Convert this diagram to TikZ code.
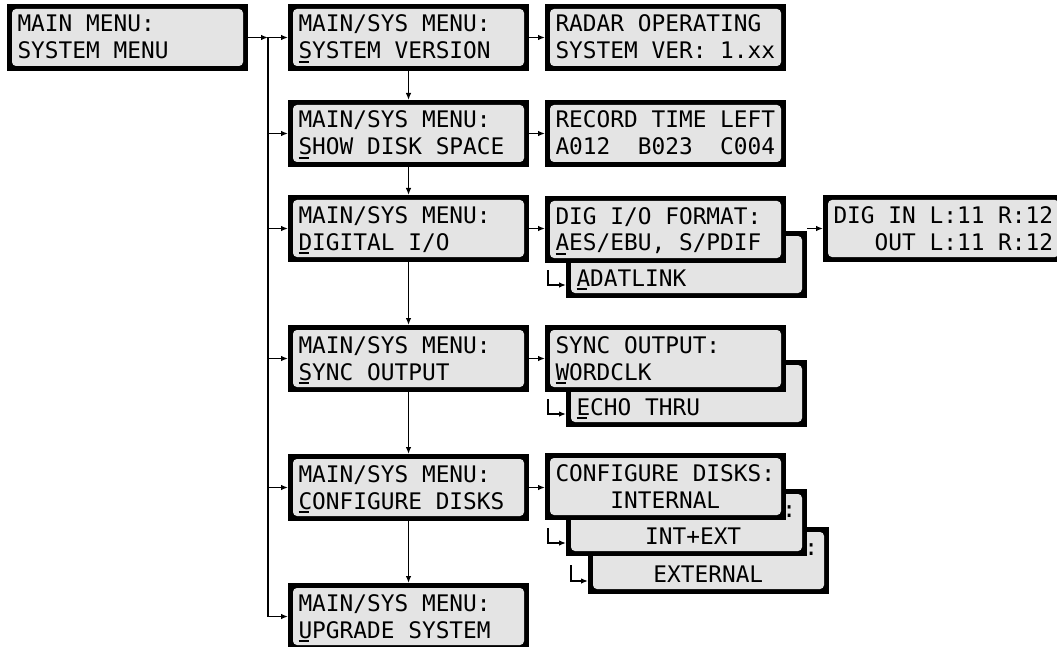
\documentclass[tikz,border=0pt]{standalone}
\usepackage{fontspec}
\usepackage{tikz}
\usetikzlibrary{arrows.meta}
\newfontfamily\lcdfont{DejaVu Sans Mono}
\definecolor{lcdGray}{RGB}{228,228,228}
\newcommand{\cursor}[1]{\rlap{\rule[-0.19em]{0.48em}{0.09em}}#1}
\newcommand{\lcdtext}[2]{\vtop{\hbox to 220pt{#1\hss}\hbox to 220pt{#2\hss}}}

\tikzset{
  lcd/.style={anchor=north west, fill=black, inner xsep=10.5pt, inner ysep=0pt, outer sep=0pt,
    text height=28pt, text depth=39pt,
    font=\lcdfont\fontsize{22.8pt}{27pt}\selectfont,
    path picture={\fill[lcdGray, rounded corners=4pt]
      ([xshift=5pt,yshift=-5pt]path picture bounding box.north west) rectangle
      ([xshift=-5pt,yshift=5pt]path picture bounding box.south east);}},
  link/.style={line width=1.3pt, -{Latex[length=7pt,width=5.5pt]}},
  wire/.style={line width=1.3pt}
}

\begin{document}
\begin{tikzpicture}[x=1pt, y=-1pt]
\useasboundingbox (0,0) rectangle (1057,647);

% main menu
\node[lcd] (main) at (7,4) {\lcdtext{MAIN MENU:}{SYSTEM MENU}};

% system menu entries
\node[lcd] (ver)  at (288,4)   {\lcdtext{MAIN/SYS MENU:}{\cursor{S}YSTEM VERSION}};
\node[lcd] (disk) at (288,100) {\lcdtext{MAIN/SYS MENU:}{\cursor{S}HOW DISK SPACE}};
\node[lcd] (dig)  at (288,195) {\lcdtext{MAIN/SYS MENU:}{\cursor{D}IGITAL I/O}};
\node[lcd] (sync) at (288,325) {\lcdtext{MAIN/SYS MENU:}{\cursor{S}YNC OUTPUT}};
\node[lcd] (cfg)  at (288,454) {\lcdtext{MAIN/SYS MENU:}{\cursor{C}ONFIGURE DISKS}};
\node[lcd] (upg)  at (288,583) {\lcdtext{MAIN/SYS MENU:}{\cursor{U}PGRADE SYSTEM}};

% displays, the ones behind first
\node[lcd] (radar) at (545,4)   {\lcdtext{RADAR OPERATING}{SYSTEM VER: 1.xx}};
\node[lcd] (rec)   at (545,100) {\lcdtext{RECORD TIME LEFT}{A012~~B023~~C004}};
\node[lcd] (adat)  at (566,231) {\lcdtext{}{\cursor{A}DATLINK}};
\node[lcd] (fmt)   at (545,196) {\lcdtext{DIG I/O FORMAT:}{\cursor{A}ES/EBU, S/PDIF}};
\node[lcd] (digin) at (823,195) {\lcdtext{DIG IN L:11 R:12}{~~~OUT L:11 R:12}};
\node[lcd] (echo)  at (566,360) {\lcdtext{}{\cursor{E}CHO THRU}};
\node[lcd] (syncout) at (545,325) {\lcdtext{SYNC OUTPUT:}{\cursor{W}ORDCLK}};
\node[lcd] (cfgext) at (588,527) {\lcdtext{\phantom{CONFIGURE DISKS}:}{~~~~EXTERNAL}};
\node[lcd] (cfgboth) at (566,489) {\lcdtext{\phantom{CONFIGURE DISKS}:}{~~~~~INT+EXT}};
\node[lcd] (cfgint) at (545,453) {\lcdtext{CONFIGURE DISKS:}{~~~~INTERNAL}};

% bus to the system menu
\coordinate (bus) at (268,37.5);
\draw[link] (main.east) -- (bus);
\draw[wire] (bus) -- (bus |- upg.west);
\foreach \m in {ver,disk,dig,sync,cfg,upg}
  \draw[link] (bus |- \m.west) -- (\m.west);
\foreach \a/\b in {ver/disk,disk/dig,dig/sync,sync/cfg,cfg/upg}
  \draw[link] (\a.south) -- (\b.north);
\foreach \a/\b in {ver/radar,disk/rec,dig/fmt,sync/syncout,cfg/cfgint}
  \draw[link] (\a.east) -- (\a.east -| \b.west);
\draw[link] (adat.east |- digin.west) -- (digin.west);

% hooks to the other choices
\coordinate (hookAdat) at (548,270);
\coordinate (hookEcho) at (548,399);
\coordinate (hookBoth) at (548,528);
\coordinate (hookExt)  at (571,565);
\draw[link] (hookAdat) |- ([yshift=13pt]adat.south west);
\draw[link] (hookEcho) |- ([yshift=13pt]echo.south west);
\draw[link] (hookBoth) |- ([yshift=13pt]cfgboth.south west);
\draw[link] (hookExt)  |- ([yshift=13pt]cfgext.south west);
\end{tikzpicture}
\end{document}
